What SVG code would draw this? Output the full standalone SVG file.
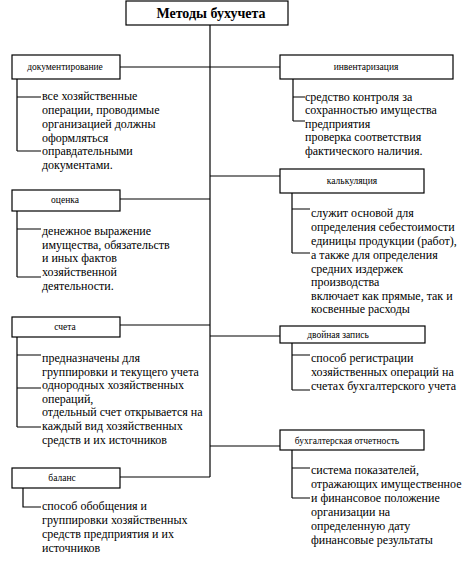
<svg xmlns="http://www.w3.org/2000/svg" width="472" height="565" viewBox="0 0 472 565">
<style>
.bg{fill:#fff}
.box{fill:#fff;stroke:#000;stroke-width:1.2}
.ln{stroke:#000;stroke-width:1.2;fill:none}
.t{font-family:"Liberation Serif","Times New Roman",serif;font-size:12px;fill:#000}
.lbl{font-family:"Liberation Serif","Times New Roman",serif;font-size:9.5px;fill:#000;text-anchor:middle}
.title{font-family:"Liberation Serif","Times New Roman",serif;font-size:14px;font-weight:bold;fill:#000;text-anchor:middle}
</style>
<rect class="bg" x="0" y="0" width="472" height="565"/>
<g id="connectors">
<path class="ln" d="M210,25 V477"/>
<path class="ln" d="M120,67 H280"/>
<path class="ln" d="M120,199 H210"/>
<path class="ln" d="M210,176 H280"/>
<path class="ln" d="M120,325 H210"/>
<path class="ln" d="M210,336 H280"/>
<path class="ln" d="M210,446 H280"/>
<path class="ln" d="M120,477 H210"/>
<path class="ln" d="M17,79 V151 M17,97 H41 M17,151 H41"/>
<path class="ln" d="M17,211 V277 M17,229 H41 M17,277 H41"/>
<path class="ln" d="M17,337 V427 M17,355 H41 M17,388 H41 M17,427 H41"/>
<path class="ln" d="M23,488 V507 H41"/>
<path class="ln" d="M293,79 V121 M293,97 H305 M293,121 H305"/>
<path class="ln" d="M292,193 V253 M292,209 H310 M292,253 H310"/>
<path class="ln" d="M292,343 V390 M292,355 H310 M292,390 H310"/>
<path class="ln" d="M292,450 V498 M292,468 H310 M292,498 H310"/>
</g>
<g id="title">
<rect class="box" x="126" y="1" width="162" height="24"/>
<text class="title" x="211" y="18">Методы бухучета</text>
</g>
<g id="doc">
<rect class="box" x="12" y="55" width="108" height="24"/>
<text class="lbl" x="65" y="70">документирование</text>
<text class="t" x="42" y="100">все хозяйственные</text>
<text class="t" x="42" y="114">операции, проводимые</text>
<text class="t" x="42" y="128">организацией должны</text>
<text class="t" x="42" y="142">оформляться</text>
<text class="t" x="42" y="155">оправдательными</text>
<text class="t" x="42" y="169">документами.</text>
</g>
<g id="inv">
<rect class="box" x="280" y="55" width="173" height="24"/>
<text class="lbl" x="366" y="70">инвентаризация</text>
<text class="t" x="305" y="101">средство контроля за</text>
<text class="t" x="305" y="114">сохранностью имущества</text>
<text class="t" x="305" y="128">предприятия</text>
<text class="t" x="305" y="141">проверка соответствия</text>
<text class="t" x="305" y="155">фактического наличия.</text>
</g>
<g id="ocenka">
<rect class="box" x="12" y="190" width="108" height="21"/>
<text class="lbl" x="65" y="203">оценка</text>
<text class="t" x="42" y="235">денежное выражение</text>
<text class="t" x="42" y="249">имущества, обязательств</text>
<text class="t" x="42" y="262">и иных фактов</text>
<text class="t" x="42" y="276">хозяйственной</text>
<text class="t" x="42" y="290">деятельности.</text>
</g>
<g id="kalk">
<rect class="box" x="280" y="169" width="144" height="24"/>
<text class="lbl" x="352" y="184">калькуляция</text>
<text class="t" x="311" y="217">служит основой для</text>
<text class="t" x="311" y="231">определения себестоимости</text>
<text class="t" x="311" y="245">единицы продукции (работ),</text>
<text class="t" x="311" y="259">а также для определения</text>
<text class="t" x="311" y="273">средних издержек</text>
<text class="t" x="311" y="286">производства</text>
<text class="t" x="311" y="300">включает как прямые, так и</text>
<text class="t" x="311" y="313">косвенные расходы</text>
</g>
<g id="scheta">
<rect class="box" x="12" y="317" width="108" height="20"/>
<text class="lbl" x="65" y="330">счета</text>
<text class="t" x="42" y="362">предназначены для</text>
<text class="t" x="42" y="376">группировки и текущего учета</text>
<text class="t" x="42" y="389">однородных хозяйственных</text>
<text class="t" x="42" y="403">операций,</text>
<text class="t" x="42" y="416">отдельный счет открывается на</text>
<text class="t" x="42" y="430">каждый вид хозяйственных</text>
<text class="t" x="42" y="444">средств и их источников</text>
</g>
<g id="dvoin">
<rect class="box" x="280" y="326" width="145" height="17"/>
<text class="lbl" x="338" y="338">двойная запись</text>
<text class="t" x="311" y="362">способ регистрации</text>
<text class="t" x="311" y="376">хозяйственных операций на</text>
<text class="t" x="311" y="390">счетах бухгалтерского учета</text>
</g>
<g id="otch">
<rect class="box" x="280" y="430" width="144" height="20"/>
<text class="lbl" x="347" y="444">бухгалтерская отчетность</text>
<text class="t" x="311" y="474">система показателей,</text>
<text class="t" x="311" y="488">отражающих имущественное</text>
<text class="t" x="311" y="502">и финансовое положение</text>
<text class="t" x="311" y="516">организации на</text>
<text class="t" x="311" y="530">определенную дату</text>
<text class="t" x="311" y="544">финансовые результаты</text>
</g>
<g id="balans">
<rect class="box" x="12" y="468" width="108" height="20"/>
<text class="lbl" x="62" y="481">баланс</text>
<text class="t" x="42" y="510">способ обобщения и</text>
<text class="t" x="42" y="524">группировки хозяйственных</text>
<text class="t" x="42" y="538">средств предприятия и их</text>
<text class="t" x="42" y="552">источников</text>
</g>
</svg>
